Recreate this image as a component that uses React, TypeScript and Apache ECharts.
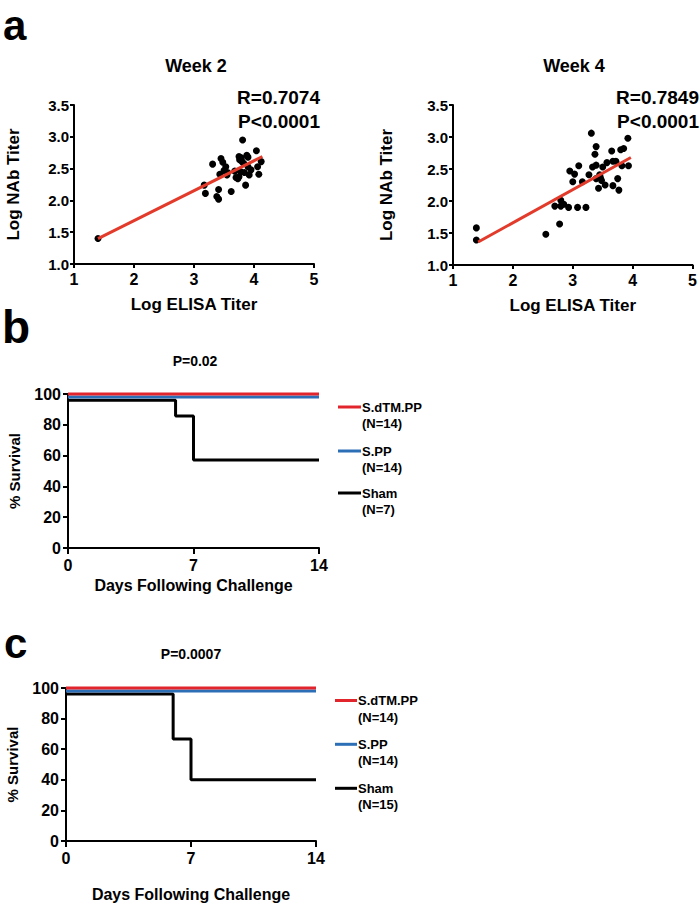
import React, { useEffect, useRef } from 'react';
import * as echarts from 'echarts';

// ---- Panel a: scatter data (Log ELISA titer vs Log NAb titer) ----
const week2Elisa = [1.40, 3.17, 3.19, 3.31, 3.38, 3.41, 3.41, 3.43, 3.45, 3.48, 3.50, 3.53, 3.55, 3.56, 3.62, 3.68, 3.70, 3.73, 3.75, 3.75, 3.76, 3.78, 3.79, 3.80, 3.81, 3.83, 3.84, 3.86, 3.88, 3.90, 3.90, 3.92, 3.95, 4.04, 4.06, 4.08, 4.12];
const week2NAb = [1.40, 2.24, 2.11, 2.57, 2.06, 2.02, 2.17, 2.41, 2.66, 2.60, 2.47, 2.53, 2.40, 2.44, 2.14, 2.46, 2.36, 2.34, 2.69, 2.37, 2.64, 2.45, 2.67, 2.61, 2.95, 2.58, 2.44, 2.24, 2.71, 2.68, 2.53, 2.40, 2.48, 2.78, 2.53, 2.41, 2.61];
const week4Elisa = [1.39, 1.39, 2.55, 2.78, 2.70, 2.80, 2.80, 2.85, 2.93, 3.08, 3.22, 2.95, 3.03, 3.00, 3.10, 3.16, 3.27, 3.31, 3.33, 3.37, 3.39, 3.39, 3.39, 3.43, 3.45, 3.46, 3.48, 3.50, 3.54, 3.57, 3.65, 3.67, 3.72, 3.67, 3.75, 3.77, 3.80, 3.85, 3.82, 3.92, 3.93];
const week4NAb = [1.58, 1.39, 1.48, 1.64, 1.92, 2.01, 1.92, 1.95, 1.90, 1.90, 1.90, 2.47, 2.42, 2.30, 2.55, 2.30, 2.41, 3.06, 2.53, 2.73, 2.85, 2.56, 2.35, 2.20, 2.41, 2.37, 2.32, 2.53, 2.25, 2.60, 2.78, 2.62, 2.62, 2.24, 2.35, 2.17, 2.80, 2.82, 2.55, 2.98, 2.55];
const week2FitX = [1.40, 4.14];
const week2FitY = [1.40, 2.69];
const week4FitX = [1.42, 3.97];
const week4FitY = [1.36, 2.68];
const weekTitles = ['Week 2', 'Week 4'];
const weekStats = [['R=0.7074', 'P<0.0001'], ['R=0.7849', 'P<0.0001']];

// ---- Panels b, c: survival ----
const groups = ['S.dTM.PP', 'S.PP', 'Sham'];
const groupNb = ['(N=14)', '(N=14)', '(N=7)'];
const groupNc = ['(N=14)', '(N=14)', '(N=15)'];
const flatDays = [0, 14];
const dTMSurv = [100, 100];
const sppSurv = [98, 98];
const bShamDays = [0, 6, 7, 14];
const bShamSurv = [96, 85.7, 57.1, 57.1];
const cShamDays = [0, 6, 7, 14];
const cShamSurv = [96, 66.7, 40, 40];
const pValues = ['P=0.02', 'P=0.0007'];

const RED_FIT = '#e23b2b';
const RED = '#e2252d';
const BLUE = '#2d6fb6';
const FF = '"Liberation Sans", Arial, Helvetica, sans-serif';

const zip = (a: number[], b: number[]) => a.map((v, i) => [v, b[i]]);

export default function App() {
  const ref = useRef<HTMLDivElement>(null);
  useEffect(() => {
    document.body.style.margin = '0';
    const chart = echarts.init(ref.current!, null, { renderer: 'svg' });

    const axisLine = { show: true, onZero: false, lineStyle: { color: '#000', width: 2 } };
    const axisTick = { show: true, length: 4, lineStyle: { color: '#000', width: 2 } };
    const lbl = (size: number, margin: number, fmt?: any) => ({
      fontSize: size, fontWeight: 'bold', color: '#000', fontFamily: FF, margin, formatter: fmt,
    });
    const nameStyle = (size: number) => ({ fontSize: size, fontWeight: 'bold', color: '#000', fontFamily: FF });

    const scatterX = (gi: number) => ({
      gridIndex: gi, type: 'value', min: 1, max: 5, interval: 1,
      axisLine, axisTick, splitLine: { show: false }, axisLabel: lbl(16, 7),
      name: 'Log ELISA Titer', nameLocation: 'middle', nameGap: 32, nameTextStyle: nameStyle(17),
    });
    const scatterY = (gi: number, gap: number) => ({
      gridIndex: gi, type: 'value', min: 1, max: 3.5, interval: 0.5,
      axisLine, axisTick, splitLine: { show: false },
      axisLabel: lbl(15, 5, (v: number) => v.toFixed(1)),
      name: 'Log NAb Titer', nameLocation: 'middle', nameGap: gap, nameTextStyle: nameStyle(17),
    });
    const survX = (gi: number, gap: number) => ({
      gridIndex: gi, type: 'value', min: 0, max: 14, interval: 7,
      axisLine, axisTick: { ...axisTick, length: 6 }, splitLine: { show: false }, axisLabel: lbl(16, 9),
      name: 'Days Following Challenge', nameLocation: 'middle', nameGap: gap, nameTextStyle: nameStyle(16),
    });
    const survY = (gi: number) => ({
      gridIndex: gi, type: 'value', min: 0, max: 100, interval: 20,
      axisLine, axisTick: { ...axisTick, length: 5 }, splitLine: { show: false }, axisLabel: lbl(16, 7),
      name: '% Survival', nameLocation: 'middle', nameGap: 46, nameTextStyle: nameStyle(15),
    });

    const fitLine = (i: number, xs: number[], ys: number[]) => ({
      type: 'line', xAxisIndex: i, yAxisIndex: i, data: zip(xs, ys), symbol: 'none',
      lineStyle: { color: RED_FIT, width: 3 }, z: 5, silent: true,
    });
    const dots = (i: number, xs: number[], ys: number[]) => ({
      type: 'scatter', xAxisIndex: i, yAxisIndex: i, data: zip(xs, ys), symbolSize: 7,
      itemStyle: { color: '#000', opacity: 1 }, z: 3,
    });
    const surv = (i: number, name: string, xs: number[], ys: number[], color: string, z: number) => ({
      type: 'line', name, xAxisIndex: i, yAxisIndex: i, data: zip(xs, ys), step: 'end', symbol: 'none',
      clip: false, lineStyle: { color, width: 3 }, z,
    });

    const txt = (text: string, x: number, y: number, size: number, align = 'left') => ({
      type: 'text', x, y, silent: true,
      style: { text, fontSize: size, fontWeight: 'bold', fontFamily: FF, fill: '#000', align, verticalAlign: 'middle' },
    });
    const legend = (ys: number[], x1: number, x2: number, ns: string[]) => {
      const colors = [RED, BLUE, '#000'];
      const out: any[] = [];
      ys.forEach((y, i) => {
        out.push({ type: 'line', silent: true, shape: { x1, y1: y, x2, y2: y }, style: { stroke: colors[i], lineWidth: 3 } });
        out.push(txt(groups[i], x2 + 1, y, 13));
        out.push(txt(ns[i], x2 + 1, y + 16.5, 13));
      });
      return out;
    };

    const option: any = {
      animation: false,
      backgroundColor: '#fff',
      grid: [
        { left: 74, top: 105, width: 240, height: 159 },
        { left: 453, top: 105, width: 240, height: 160 },
        { left: 68, top: 394, width: 251, height: 154 },
        { left: 66, top: 688, width: 250, height: 154 },
      ],
      xAxis: [scatterX(0), scatterX(1), survX(2, 29), survX(3, 45)],
      yAxis: [scatterY(0, 52), scatterY(1, 58), survY(2), survY(3)],
      series: [
        dots(0, week2Elisa, week2NAb),
        fitLine(0, week2FitX, week2FitY),
        dots(1, week4Elisa, week4NAb),
        fitLine(1, week4FitX, week4FitY),
        surv(2, groups[2], bShamDays, bShamSurv, '#000', 2),
        surv(2, groups[1], flatDays, sppSurv, BLUE, 3),
        surv(2, groups[0], flatDays, dTMSurv, RED, 4),
        surv(3, groups[2], cShamDays, cShamSurv, '#000', 2),
        surv(3, groups[1], flatDays, sppSurv, BLUE, 3),
        surv(3, groups[0], flatDays, dTMSurv, RED, 4),
      ],
      graphic: [
        txt('a', 3, 25, 42),
        txt('b', 2, 327, 46),
        txt('c', 4, 643, 42),
        txt(weekTitles[0], 196, 66, 18, 'center'),
        txt(weekTitles[1], 574, 66, 18, 'center'),
        txt(weekStats[0][0], 320, 97, 19, 'right'),
        txt(weekStats[0][1], 320, 121, 19, 'right'),
        txt(weekStats[1][0], 699, 97, 19, 'right'),
        txt(weekStats[1][1], 699, 121, 19, 'right'),
        txt(pValues[0], 195, 361, 14, 'center'),
        txt(pValues[1], 191, 654, 14, 'center'),
        ...legend([407, 451, 493], 338, 361, groupNb),
        ...legend([700.5, 744.3, 788.3], 335, 357, groupNc),
      ],
    };
    chart.setOption(option);
    return () => chart.dispose();
  }, []);
  return <div ref={ref} style={{ width: 700, height: 903 }} />;
}
